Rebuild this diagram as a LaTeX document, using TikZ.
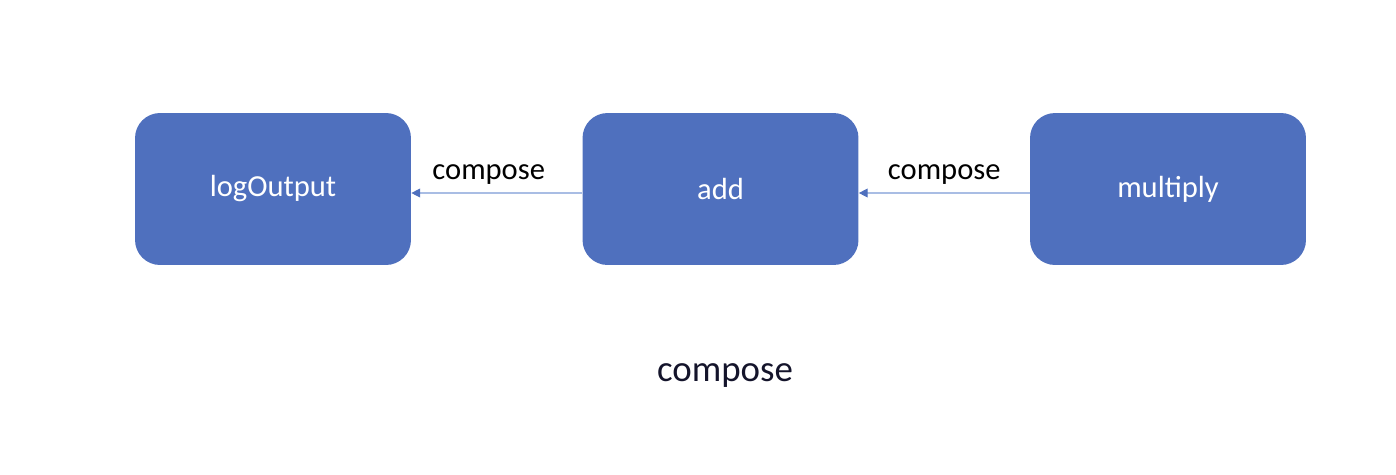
\documentclass[tikz,border=0pt]{standalone}
\usepackage{fontspec}
\setmainfont{Carlito}
\usepackage{xcolor}
\usetikzlibrary{arrows.meta,positioning}
\definecolor{boxblue}{HTML}{4F70BE}
\definecolor{linkblue}{HTML}{A9BDE4}
\definecolor{captionnavy}{HTML}{14142B}

\begin{document}
\begin{tikzpicture}[
  x=0.02cm, y=-0.02cm,
  func/.style={fill=boxblue, rounded corners=0.5cm, minimum width=5.52cm,
    minimum height=3.04cm, text=white, font=\fontsize{17.4}{20}\selectfont},
  link/.style={draw=linkblue, line width=0.6pt,
    -{Triangle[length=5pt,width=5pt,color=boxblue,fill=boxblue]}},
  linklabel/.style={font=\fontsize{17.4}{20}\selectfont, text=black}
]
\useasboundingbox (0,0) rectangle (1396,474);
\node[func] (log) at (273,189) {logOutput};
\node[func] (add) at (720.5,189) {add};
\node[func] (mul) at (1168,189) {multiply};

\draw[link] ([yshift=-0.08cm]add.west) -- node[linklabel, above=1pt, xshift=-0.16cm] {compose} ([yshift=-0.08cm]log.east);
\draw[link] ([yshift=-0.08cm]mul.west) -- node[linklabel, above=1pt] {compose} ([yshift=-0.08cm]add.east);

\node[font=\fontsize{21}{25}\selectfont, text=captionnavy] (caption) at (725,376) {compose};
\end{tikzpicture}
\end{document}
